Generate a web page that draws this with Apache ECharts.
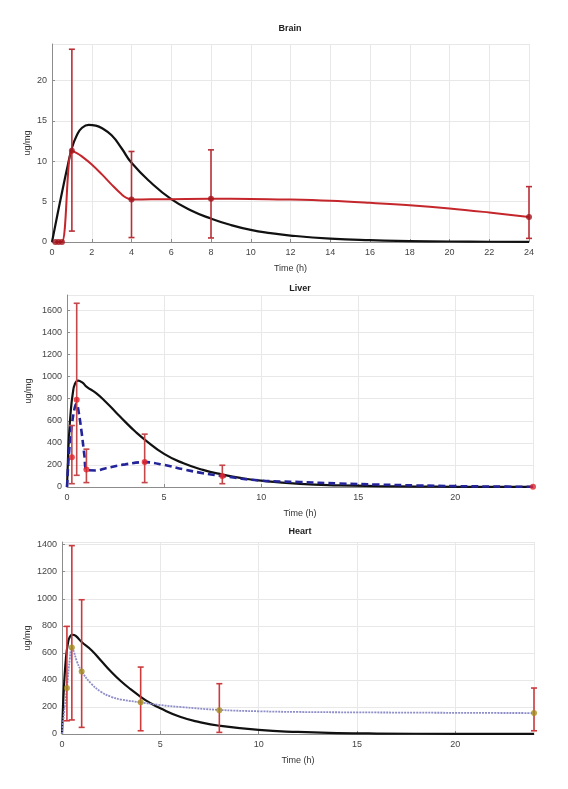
<!DOCTYPE html>
<html><head><meta charset="utf-8">
<script src="https://cdn.jsdelivr.net/npm/echarts@6/dist/echarts.min.js"></script>
<style>html,body{margin:0;padding:0;background:#fff}#c{width:568px;height:789px}</style>
</head><body><div id="c"></div>
<script>
// ---------- Brain ----------
var brainModelT = [0,0.25,0.5,0.75,1,1.25,1.5,1.85,2.2,2.5,3,3.5,4,5,6,7,8,9,10,11,12,14,16,18,20,22,24];
var brainModelV = [0,3.1,6.1,9.0,11.6,13.2,14.1,14.5,14.4,14.1,13.2,11.6,9.8,7.3,5.3,3.9,2.9,2.1,1.5,1.1,0.8,0.42,0.22,0.12,0.06,0.03,0.02];
var brainFitT = [0.17,0.33,0.5,1,1.25,1.5,2,2.5,3,3.5,3.75,4,5,6,8,10,12,14,16,18,20,22,24];
var brainFitV = [0,0,0,11.3,11.0,10.6,9.6,8.4,7.1,5.9,5.45,5.27,5.28,5.3,5.34,5.33,5.25,5.1,4.85,4.55,4.15,3.65,3.1];
var brainObsT = [0.17,0.33,0.5,1,4,8,24];
var brainObsV = [0,0,0,11.3,5.27,5.34,3.1];
var brainErrT = [1,4,8,24];
var brainErrLo = [1.35,0.55,0.5,0.45];
var brainErrHi = [23.85,11.2,11.4,6.85];

// ---------- Liver ----------
var liverModelT = [0,0.05,0.1,0.2,0.3,0.4,0.57,0.8,1,1.5,2,2.5,3,3.5,4,5,6,7,8,9,10,12,14,16,18,20,24];
var liverModelV = [0,250,450,700,850,930,964,945,910,850,770,680,590,505,430,300,215,155,113,80,57,29,15,8,4,2,0.5];
var liverFitT = [0,0.1,0.25,0.4,0.5,0.6,0.75,0.9,1,1.5,2,3,4,5,6,7,8,9,10,11,12,14,16,18,20,22,24];
var liverFitV = [0,300,560,720,755,680,500,280,155,150,170,205,225,200,160,125,100,75,58,50,45,32,22,14,8,4,2];
var liverObsT = [0.25,0.5,1,4,8,24];
var liverObsV = [270,790,158,227,100,3];
var liverErrT = [0.25,0.5,1,4,8];
var liverErrLo = [30,106,40,40,30];
var liverErrHi = [557,1665,343,479,197];

// ---------- Heart ----------
var heartModelT = [0,0.05,0.1,0.2,0.3,0.4,0.53,0.7,1,1.5,2,2.5,3,3.5,4,4.5,5,6,7,8,10,12,14,16,20,24];
var heartModelV = [0,200,350,560,670,720,734,725,680,620,540,460,390,330,275,228,190,128,88,61,30,15,7,3.5,1,0.2];
var heartFitT = [0,0.1,0.25,0.4,0.5,0.6,0.75,1,1.5,2,2.5,3,4,5,6,8,10,12,15,18,21,24];
var heartFitV = [0,150,340,560,640,610,540,463,370,310,275,255,234,214,200,178,168,163,160,158,156,155];
var heartObsT = [0.25,0.5,1,4,8,24];
var heartObsV = [340,640,463,234,175,155];
var heartErrLo = [98,104,49,24,12,24];
var heartErrHi = [796,1393,993,495,372,340];

var titles = ['Brain','Liver','Heart'];
var xTitle = 'Time (h)';
var yTitle = 'ug/mg';

function zip(a,b){ return a.map(function(v,i){ return [v,b[i]]; }); }
function zip3(a,b,c){ return a.map(function(v,i){ return [v,b[i],c[i]]; }); }

var FONT = 'Liberation Sans, Arial, sans-serif';
var grids = [
  {left:52, top:44, width:477, height:198},
  {left:67, top:295, width:466, height:192},
  {left:62, top:542, width:472, height:192}
];
var yMax = [24.5, 1740, 1420];
var yInt = [5, 200, 200];
var xInt = [2, 5, 5];
var yNameGap = [20, 34, 30];

function xAxis(i){
  return {gridIndex:i, type:'value', min:0, max:24, interval:xInt[i],
    name:xTitle, nameLocation:'middle', nameGap:22, nameMoveOverlap:false,
    nameTextStyle:{fontSize:9, color:'#333', fontFamily:FONT},
    axisLine:{show:true, onZero:false, lineStyle:{color:'#8c8c8c', width:1}},
    axisTick:{show:true, inside:true, length:3, lineStyle:{color:'#8c8c8c'}},
    axisLabel:{fontSize:9, color:'#444', fontFamily:FONT, margin:6, showMaxLabel: i===0,
      formatter:function(v){ return String(v); }},
    splitLine:{show:true, lineStyle:{color:'#e8e8e8', width:1}}};
}
function yAxis(i){
  return {gridIndex:i, type:'value', min:0, max:yMax[i], interval:yInt[i],
    name:yTitle, nameLocation:'middle', nameRotate:90, nameGap:yNameGap[i], nameMoveOverlap:false,
    nameTextStyle:{fontSize:9, color:'#333', fontFamily:FONT},
    axisLine:{show:true, lineStyle:{color:'#8c8c8c', width:1}},
    axisTick:{show:true, inside:true, length:3, lineStyle:{color:'#8c8c8c'}},
    axisLabel:{fontSize:9, color:'#444', fontFamily:FONT, margin:5, showMaxLabel:false,
      formatter:function(v){ return String(v); }},
    splitLine:{show:true, lineStyle:{color:'#e8e8e8', width:1}}};
}
function lineS(i, data, color, width, type, smooth){
  return {type:'line', xAxisIndex:i, yAxisIndex:i, data:data, showSymbol:false, symbol:'none',
    smooth:smooth, lineStyle:{color:color, width:width, type:type}, z:2, silent:true};
}
function dotS(i, data, color, size){
  return {type:'scatter', xAxisIndex:i, yAxisIndex:i, data:data, symbolSize:size,
    itemStyle:{color:color}, z:5, silent:true};
}
function errS(i, data, color, w){
  return {type:'custom', xAxisIndex:i, yAxisIndex:i, data:data, z:4, silent:true,
    encode:{x:0, y:[1,2]},
    renderItem:function(params, api){
      var x=api.value(0), lo=api.value(1), hi=api.value(2);
      var p1=api.coord([x,hi]), p2=api.coord([x,lo]);
      var st={stroke:color, lineWidth:w};
      var c=3;
      return {type:'group', children:[
        {type:'line', shape:{x1:p1[0],y1:p1[1],x2:p2[0],y2:p2[1]}, style:st},
        {type:'line', shape:{x1:p1[0]-c,y1:p1[1],x2:p1[0]+c,y2:p1[1]}, style:st},
        {type:'line', shape:{x1:p2[0]-c,y1:p2[1],x2:p2[0]+c,y2:p2[1]}, style:st}
      ]};
    }};
}

var heartErrT = heartObsT;
var series = [
  lineS(0, zip(brainModelT, brainModelV), '#111', 2.2, 'solid', 0.5),
  lineS(0, zip(brainFitT, brainFitV), '#c4262b', 2, 'solid', 0.4),
  errS(0, zip3(brainErrT, brainErrLo, brainErrHi), '#b83036', 1.6),
  dotS(0, zip(brainObsT, brainObsV), '#a3141b', 6),

  lineS(1, zip(liverModelT, liverModelV), '#111', 2.2, 'solid', 0.5),
  lineS(1, zip(liverFitT, liverFitV), '#23239a', 2.6, [7,4], 0.4),
  errS(1, zip3(liverErrT, liverErrLo, liverErrHi), '#c4474a', 1.6),
  dotS(1, zip(liverObsT, liverObsV), '#e0232a', 6),

  lineS(2, zip(heartModelT, heartModelV), '#111', 2.2, 'solid', 0.5),
  lineS(2, zip(heartFitT, heartFitV), '#8d8dc9', 1.8, [2,1], 0.4),
  errS(2, zip3(heartErrT, heartErrLo, heartErrHi), '#cc3a3e', 1.6),
  dotS(2, zip(heartObsT, heartObsV), '#a58d1e', 6)
];

var titleXY = [[290,29],[300,289],[300,532]];
var chart = echarts.init(document.getElementById('c'), null, {renderer:'canvas'});
chart.setOption({
  animation:false,
  backgroundColor:'#fff',
  grid: grids,
  xAxis:[xAxis(0), xAxis(1), xAxis(2)],
  yAxis:[yAxis(0), yAxis(1), yAxis(2)],
  graphic: titles.map(function(t,i){
    return {type:'text', x:titleXY[i][0], y:titleXY[i][1],
      style:{text:t, fontSize:9, fontWeight:'bold', fill:'#222', fontFamily:FONT,
             textAlign:'center', textVerticalAlign:'middle'}};
  }),
  series: series
});
</script>
</body></html>
